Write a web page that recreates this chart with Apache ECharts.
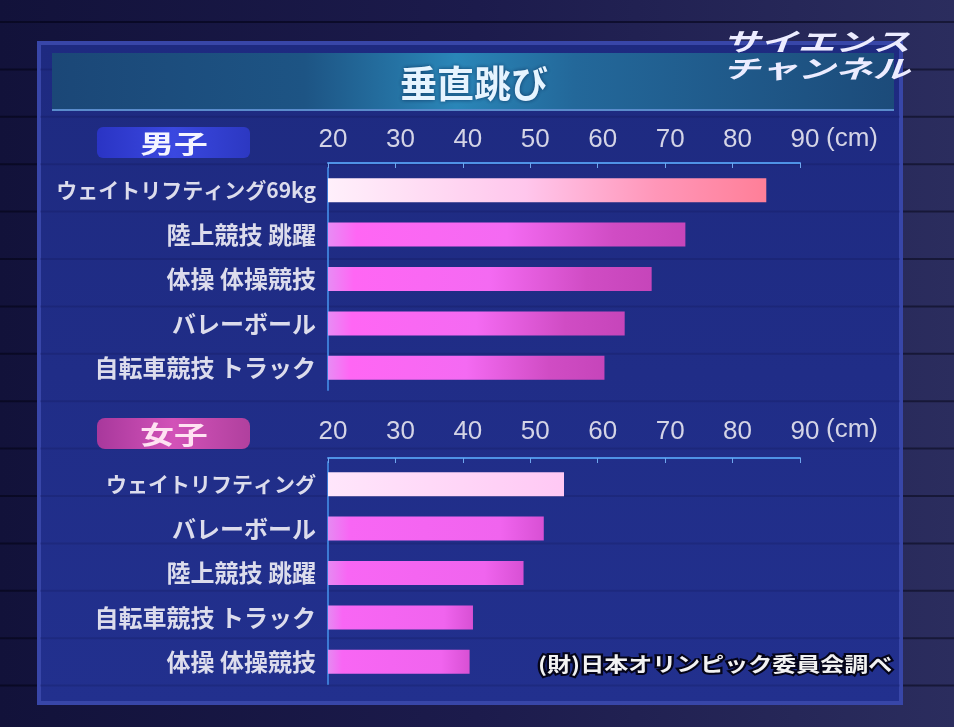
<!DOCTYPE html>
<html>
<head>
<meta charset="utf-8">
<script src="https://cdn.jsdelivr.net/npm/echarts@6/dist/echarts.min.js"></script>
<style>
  html, body { margin: 0; padding: 0; background: #15153a; }
  #main { width: 954px; height: 727px; }
</style>
</head>
<body>
<div id="main"></div>
<script>
// ==================================================
// data
var maleCats = ['ウェイトリフティング69kg', '陸上競技 跳躍', '体操 体操競技', 'バレーボール', '自転車競技 トラック'];
var maleVals = [85, 73, 68, 64, 61];

var femaleCats = ['ウェイトリフティング', 'バレーボール', '陸上競技 跳躍', '自転車競技 トラック', '体操 体操競技'];
var femaleVals = [55, 52, 49, 41.5, 41];

var axisMin = 20;
var axisMax = 90;
var axisStep = 10;
var unitText = '(cm)';

// ==================================================
// styles
var JP = '"Noto Sans CJK JP", "Noto Sans", sans-serif';
var NUM = '"Liberation Sans", "DejaVu Sans", sans-serif';

function grad(stops) {
  return new echarts.graphic.LinearGradient(0, 0, 1, 0, stops);
}

var pinkTop = grad([
  { offset: 0, color: '#fff0fb' },
  { offset: 0.45, color: '#ffc6ec' },
  { offset: 0.75, color: '#ff96b8' },
  { offset: 1, color: '#ff7f98' }
]);
var magenta = grad([
  { offset: 0, color: '#e88cf4' },
  { offset: 0.08, color: '#ff66f4' },
  { offset: 0.5, color: '#f46af2' },
  { offset: 0.8, color: '#d04cc4' },
  { offset: 1, color: '#c645ba' }
]);
var pinkTopF = grad([
  { offset: 0, color: '#ffe6fb' },
  { offset: 1, color: '#ffc8f4' }
]);
var magentaF = grad([
  { offset: 0, color: '#e68af2' },
  { offset: 0.1, color: '#f866f4' },
  { offset: 0.8, color: '#f064ee' },
  { offset: 1, color: '#d850d4' }
]);

function barData(vals, first, rest) {
  return vals.map(function (v, i) {
    return { value: v, itemStyle: { color: i === 0 ? first : rest } };
  });
}

function catData(cats, firstSize) {
  return cats.map(function (c, i) {
    return i === 0 ? { value: c, textStyle: { fontSize: firstSize } } : c;
  });
}

function xAxisCfg(gridIndex, offset, margin) {
  return {
    type: 'value', gridIndex: gridIndex, position: 'top', offset: offset,
    min: axisMin, max: axisMax, interval: axisStep, z: 5,
    axisLine: { show: true, lineStyle: { color: '#4f92e6', width: 2 } },
    axisTick: { show: true, inside: true, length: 5, lineStyle: { color: '#6ea6ee', width: 1 } },
    splitLine: { show: false },
    axisLabel: {
      color: '#d4d4e6', fontFamily: NUM, fontSize: 26, margin: margin,
      padding: [0, 0, 0, 10]
    }
  };
}

function yAxisCfg(gridIndex, cats) {
  return {
    type: 'category', gridIndex: gridIndex, inverse: true, z: 5,
    data: catData(cats, 21),
    axisLine: { show: true, lineStyle: { color: '#3c7ad4', width: 2 } },
    axisTick: { show: false },
    axisLabel: {
      color: '#dcdcec', fontFamily: JP, fontSize: 24, fontWeight: 'bold', margin: 12
    }
  };
}

// scaled text helper (TV captions are stretched sideways)
function stretched(x, y, sx, style) {
  return { type: 'text', z: 6, x: x, y: y, scaleX: sx, originX: 0, originY: 0, style: style };
}

// background stripes of the TV set
var stripes = [];
for (var k = 0; k < 15; k++) {
  var sy = 22 + 47.4 * k;
  stripes.push({
    type: 'line', z: 1, silent: true,
    shape: { x1: 0, y1: sy, x2: 954, y2: sy },
    style: { stroke: 'rgba(0,0,10,0.45)', lineWidth: 2 }
  });
  stripes.push({
    type: 'line', z: 3, silent: true,
    shape: { x1: 40, y1: sy, x2: 900, y2: sy },
    style: { stroke: 'rgba(0,0,30,0.12)', lineWidth: 2 }
  });
}

var graphics = [
  {
    type: 'rect', z: 0, silent: true,
    shape: { x: 0, y: 0, width: 954, height: 727 },
    style: {
      fill: new echarts.graphic.LinearGradient(0, 0, 1, 0, [
        { offset: 0, color: '#12123a' },
        { offset: 0.5, color: '#1c1b4c' },
        { offset: 1, color: '#2b2d5e' }
      ])
    }
  },
  // panel
  {
    type: 'rect', z: 2, silent: true,
    shape: { x: 39, y: 43, width: 862, height: 660 },
    style: {
      fill: new echarts.graphic.LinearGradient(0, 0, 0, 1, [
        { offset: 0, color: '#1e2a80' },
        { offset: 1, color: '#22308e' }
      ]),
      stroke: '#3846a8', lineWidth: 4
    }
  },
  // title band
  {
    type: 'rect', z: 4, silent: true,
    shape: { x: 52, y: 53, width: 842, height: 57 },
    style: {
      fill: grad([
        { offset: 0, color: '#1b4777' },
        { offset: 0.3, color: '#1d5484' },
        { offset: 0.48, color: '#2a86b8' },
        { offset: 0.62, color: '#23689a' },
        { offset: 1, color: '#1c4b7a' }
      ])
    }
  },
  {
    type: 'line', z: 4, silent: true,
    shape: { x1: 52, y1: 110, x2: 894, y2: 110 },
    style: { stroke: '#5a8ccc', lineWidth: 2 }
  },
  {
    type: 'text', z: 6, x: 474, y: 84,
    style: {
      text: '垂直跳び', fill: '#e6f4ff', fontFamily: JP, fontSize: 37, fontWeight: 'bold',
      align: 'center', verticalAlign: 'middle',
      textShadowColor: 'rgba(0,20,60,0.6)', textShadowBlur: 4
    }
  },
  // logo
  stretched(910, 41, 1.5, {
    text: 'サイエンス', fill: '#ececff', fontFamily: JP, fontSize: 25, fontWeight: 'bold',
    fontStyle: 'italic', align: 'right', verticalAlign: 'middle'
  }),
  stretched(910, 68, 1.5, {
    text: 'チャンネル', fill: '#ececff', fontFamily: JP, fontSize: 25, fontWeight: 'bold',
    fontStyle: 'italic', align: 'right', verticalAlign: 'middle'
  }),
  // male tag
  {
    type: 'rect', z: 4, silent: true,
    shape: { x: 97, y: 127, width: 153, height: 31, r: 6 },
    style: {
      fill: grad([
        { offset: 0, color: '#2a34c4' },
        { offset: 0.5, color: '#3a48e0' },
        { offset: 1, color: '#2c38c2' }
      ])
    }
  },
  stretched(174, 143, 1.35, {
    text: '男子', fill: '#f4f4ff', fontFamily: JP, fontSize: 25, fontWeight: 'bold',
    align: 'center', verticalAlign: 'middle'
  }),
  // female tag
  {
    type: 'rect', z: 4, silent: true,
    shape: { x: 97, y: 418, width: 153, height: 31, r: 8 },
    style: {
      fill: grad([
        { offset: 0, color: '#a8389c' },
        { offset: 0.5, color: '#d252b8' },
        { offset: 1, color: '#b0409e' }
      ])
    }
  },
  stretched(174, 434, 1.35, {
    text: '女子', fill: '#ffe2f2', fontFamily: JP, fontSize: 25, fontWeight: 'bold',
    align: 'center', verticalAlign: 'middle'
  }),
  // unit labels
  {
    type: 'text', z: 6, x: 826, y: 139,
    style: { text: unitText, fill: '#d4d4e6', fontFamily: NUM, fontSize: 26, verticalAlign: 'middle' }
  },
  {
    type: 'text', z: 6, x: 826, y: 430,
    style: { text: unitText, fill: '#d4d4e6', fontFamily: NUM, fontSize: 26, verticalAlign: 'middle' }
  },
  // source note
  stretched(538, 664, 1.2, {
    text: '(財)日本オリンピック委員会調べ', fill: '#f2f2f2', fontFamily: JP, fontSize: 20,
    fontWeight: 'bold', align: 'left', verticalAlign: 'middle',
    stroke: '#05051a', lineWidth: 4
  })
].concat(stripes);

var chart = echarts.init(document.getElementById('main'));

chart.setOption({
  backgroundColor: '#15153a',
  animation: false,
  graphic: { elements: graphics },
  grid: [
    { left: 328, right: 154, top: 168, height: 222 },
    { left: 328, right: 154, top: 462, height: 222 }
  ],
  xAxis: [xAxisCfg(0, 5, 10), xAxisCfg(1, 4, 13)],
  yAxis: [yAxisCfg(0, maleCats), yAxisCfg(1, femaleCats)],
  series: [
    {
      type: 'bar', xAxisIndex: 0, yAxisIndex: 0, z: 6,
      barWidth: 24,
      data: barData(maleVals, pinkTop, magenta)
    },
    {
      type: 'bar', xAxisIndex: 1, yAxisIndex: 1, z: 6,
      barWidth: 24,
      data: barData(femaleVals, pinkTopF, magentaF)
    }
  ]
});

// 响应
window.addEventListener('resize', function () {
  chart.resize();
});
</script>
</body>
</html>
